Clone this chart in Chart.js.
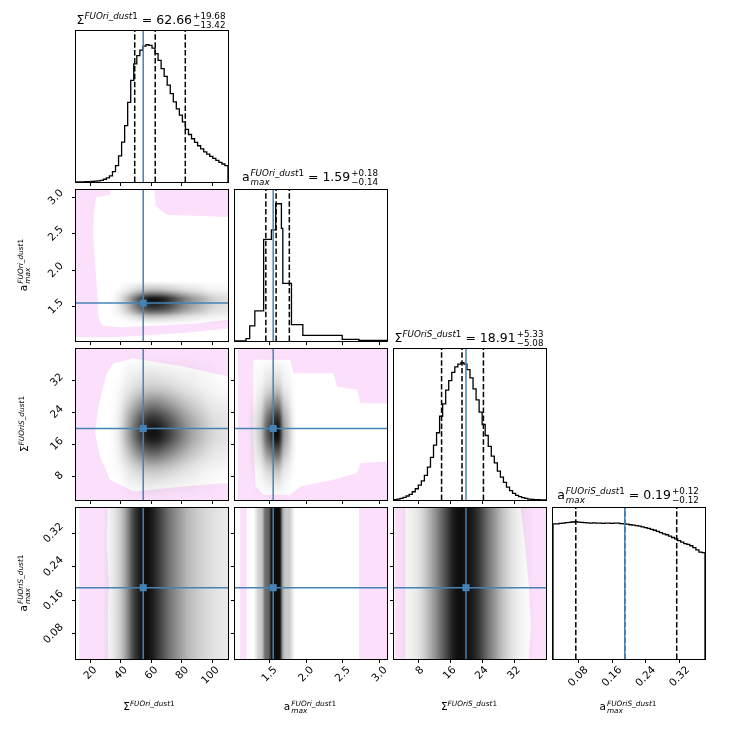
<!DOCTYPE html>
<html>
<head>
<meta charset="utf-8">
<script src="https://cdn.jsdelivr.net/npm/chart.js@4.4.1/dist/chart.umd.min.js"></script>
<style>
  html, body { margin: 0; padding: 0; background: #fff; }
  #fig { position: relative; width: 736px; height: 736px; overflow: hidden; font-family: "DejaVu Sans", sans-serif; color: #000; }
  #fig canvas { position: absolute; left: 0; top: 0; pointer-events: none; }
  .ttl { position: absolute; transform: translateX(-50%); font-size: 12.5px; line-height: 16px; white-space: nowrap; }
  .lbl { position: absolute; transform: translateX(-50%); font-size: 10.5px; line-height: 12px; white-space: nowrap; }
  .ylbl { position: absolute; width: 0; height: 0; }
  .ylbl > div { position: absolute; left: 0; top: 0; font-size: 10.5px; line-height: 12px; white-space: nowrap; transform: translate(-50%, -50%) rotate(-90deg); }
  sup { font-size: 70%; vertical-align: 0.55em; line-height: 0; }
  .pm { display: inline-block; vertical-align: -0.45em; font-size: 70%; line-height: 1; text-align: left; margin-left: 1px; }
  .pm > span { display: block; }
</style>
</head>
<body>
<div id="fig">
  <div class="ttl" style="left:151px;top:12px">Σ<sup><i>FUOri</i>_<i>dust</i>1</sup> = 62.66<span class="pm"><span>+19.68</span><span>−13.42</span></span></div>
  <div class="ttl" style="left:310px;top:169px">a<span class="pm"><span><i>FUOri</i>_<i>dust</i>1</span><span><i>max</i></span></span> = 1.59<span class="pm"><span>+0.18</span><span>−0.14</span></span></div>
  <div class="ttl" style="left:469px;top:330px">Σ<sup><i>FUOriS</i>_<i>dust</i>1</sup> = 18.91<span class="pm"><span>+5.33</span><span>−5.08</span></span></div>
  <div class="ttl" style="left:628px;top:487px">a<span class="pm"><span><i>FUOriS</i>_<i>dust</i>1</span><span><i>max</i></span></span> = 0.19<span class="pm"><span>+0.12</span><span>−0.12</span></span></div>

  <div class="lbl" style="left:149px;top:700px">Σ<sup><i>FUOri</i>_<i>dust</i>1</sup></div>
  <div class="lbl" style="left:310px;top:700px">a<span class="pm"><span><i>FUOri</i>_<i>dust</i>1</span><span><i>max</i></span></span></div>
  <div class="lbl" style="left:469px;top:700px">Σ<sup><i>FUOriS</i>_<i>dust</i>1</sup></div>
  <div class="lbl" style="left:628px;top:700px">a<span class="pm"><span><i>FUOriS</i>_<i>dust</i>1</span><span><i>max</i></span></span></div>

  <div class="ylbl" style="left:24px;top:265px"><div>a<span class="pm"><span><i>FUOri</i>_<i>dust</i>1</span><span><i>max</i></span></span></div></div>
  <div class="ylbl" style="left:24px;top:424px"><div>Σ<sup><i>FUOriS</i>_<i>dust</i>1</sup></div></div>
  <div class="ylbl" style="left:24px;top:583px"><div>a<span class="pm"><span><i>FUOriS</i>_<i>dust</i>1</span><span><i>max</i></span></span></div></div>
</div>
<script>
  // parameter axes: Σ FUOri, a_max FUOri, Σ FUOriS, a_max FUOriS
  const paramRanges = [[10.8, 110.3], [1.03, 3.1], [2, 39.8], [0.02, 0.38]];
  const paramTicks = [[20, 40, 60, 80, 100], [1.5, 2.0, 2.5, 3.0], [8, 16, 24, 32], [0.08, 0.16, 0.24, 0.32]];
  const tickDecimals = [0, 1, 0, 2];
  const truthValues = [54.8, 1.55, 19.9, 0.19];
  const quantiles = [[49.24, 62.66, 82.34], [1.45, 1.59, 1.77], [13.83, 18.91, 24.24], [0.074, 0.19, 0.313]];

  // 1D marginal histograms (peak = 1)
  const histSigmaFUOri = [0, 0, 0, 0.002, 0.003, 0.004, 0.006, 0.008, 0.012, 0.02,
    0.03, 0.045, 0.075, 0.12, 0.19, 0.29, 0.41, 0.58, 0.74, 0.86,
    0.92, 0.96, 0.99, 1.0, 0.995, 0.975, 0.935, 0.886, 0.826, 0.77,
    0.705, 0.644, 0.584, 0.533, 0.487, 0.438, 0.383, 0.346, 0.315, 0.288,
    0.264, 0.242, 0.22, 0.203, 0.186, 0.172, 0.157, 0.143, 0.131, 0.119];
  const histAmaxFUOriEdges = [1.03, 1.18, 1.23, 1.30, 1.42, 1.526, 1.585, 1.662, 1.681, 1.799, 1.954, 2.49, 2.718, 3.1];
  const histAmaxFUOri = [0, 0.017, 0.11, 0.22, 0.74, 0.81, 1.0, 0.82, 0.42, 0.12, 0.041, 0.012, 0.005];
  const histSigmaFUOriS = [0.002, 0.007, 0.012, 0.019, 0.029, 0.041, 0.06, 0.082, 0.109, 0.14,
    0.18, 0.24, 0.31, 0.40, 0.49, 0.61, 0.70, 0.80, 0.87, 0.93,
    0.97, 0.99, 1.0, 0.99, 0.95, 0.89, 0.81, 0.73, 0.64, 0.55,
    0.47, 0.39, 0.32, 0.27, 0.21, 0.167, 0.128, 0.094, 0.068, 0.048,
    0.034, 0.024, 0.017, 0.012, 0.007, 0.005, 0.003, 0.002, 0.001, 0];
  const histAmaxFUOriS = [0.985, 0.985, 0.988, 0.99, 0.993, 0.995, 0.998, 1.0, 0.997, 0.995,
    0.993, 0.992, 0.99, 0.992, 0.99, 0.99, 0.988, 0.99, 0.99, 0.988,
    0.99, 0.99, 0.986, 0.985, 0.982, 0.978, 0.975, 0.972, 0.968, 0.962,
    0.957, 0.952, 0.945, 0.938, 0.93, 0.92, 0.912, 0.905, 0.895, 0.885,
    0.875, 0.862, 0.852, 0.84, 0.835, 0.825, 0.812, 0.795, 0.778, 0.775];

  // 2D densities (darkness in %, rows listed from top to bottom, cells span the given x / y extents)
  const densR2C1X = [30, 114], densR2C1Y = [1.22, 1.88];
  const densR2C1 = [
    [0, 0, 0, 0, 0, 0, 0, 0, 0, 0, 0, 0, 0, 0],
    [0, 0, 2, 5, 8, 8, 7, 6, 4, 3, 2, 1, 1, 1],
    [0, 1, 5, 12, 19, 20, 18, 14, 10, 7, 5, 3, 2, 2],
    [0, 3, 14, 33, 52, 55, 50, 39, 28, 19, 14, 8, 6, 5],
    [0, 5, 25, 60, 95, 100, 90, 70, 50, 35, 25, 15, 10, 8],
    [0, 5, 23, 54, 86, 90, 81, 63, 45, 32, 23, 14, 9, 7],
    [0, 4, 20, 48, 76, 80, 72, 56, 40, 28, 20, 12, 8, 6],
    [0, 3, 14, 33, 52, 55, 50, 39, 28, 19, 14, 8, 6, 5],
    [0, 1, 5, 12, 19, 20, 18, 14, 10, 7, 5, 3, 2, 2],
    [0, 0, 1, 3, 5, 5, 5, 4, 3, 2, 1, 1, 1, 1],
    [0, 0, 0, 0, 0, 0, 0, 0, 0, 0, 0, 0, 0, 0]];
  const densR3C1X = [30, 114], densR3C1Y = [0, 40];
  const densR3C1 = [
    [0, 0, 0, 0, 0, 0, 0, 0, 0, 0, 0, 0, 0, 0],
    [0, 0, 2, 3, 5, 5, 4, 3, 2, 2, 1, 1, 0, 0],
    [0, 1, 5, 10, 14, 15, 13, 10, 7, 5, 3, 2, 1, 1],
    [0, 2, 14, 29, 43, 45, 38, 29, 20, 14, 9, 5, 4, 3],
    [0, 4, 26, 55, 81, 85, 72, 55, 38, 26, 17, 10, 7, 6],
    [0, 5, 30, 65, 95, 100, 85, 65, 45, 30, 20, 12, 8, 7],
    [0, 3, 18, 39, 57, 60, 51, 39, 27, 18, 12, 7, 5, 4],
    [0, 1, 6, 13, 19, 20, 17, 13, 9, 6, 4, 2, 2, 1],
    [0, 0, 2, 3, 5, 5, 4, 3, 2, 2, 1, 1, 0, 0],
    [0, 0, 0, 0, 0, 0, 0, 0, 0, 0, 0, 0, 0, 0]];
  const densR3C2X = [1.18, 1.90], densR3C2Y = [0, 40];
  const densR3C2 = [
    [0, 0, 0, 0, 0, 0, 0, 0, 0, 0, 0, 0],
    [0, 0, 1, 1, 3, 4, 5, 5, 2, 1, 0, 0],
    [0, 0, 2, 3, 8, 11, 15, 15, 5, 3, 1, 0],
    [0, 1, 5, 9, 25, 34, 45, 45, 16, 9, 2, 0],
    [0, 3, 9, 17, 47, 64, 85, 85, 30, 17, 4, 0],
    [0, 3, 10, 20, 55, 75, 100, 100, 35, 20, 5, 0],
    [0, 2, 6, 12, 33, 45, 60, 60, 21, 12, 3, 0],
    [0, 1, 2, 4, 11, 15, 20, 20, 7, 4, 1, 0],
    [0, 0, 1, 1, 3, 4, 5, 5, 2, 1, 0, 0],
    [0, 0, 0, 0, 0, 0, 0, 0, 0, 0, 0, 0]];
  const densR4C1X = [26, 114], densR4C1Y = [0, 0.4];
  const densR4C1 = [[0, 2, 6, 15, 35, 70, 90, 100, 95, 80, 65, 50, 40, 30, 22, 17, 13, 10, 8, 6, 5, 5]];
  const densR4C2X = [1.27, 1.87], densR4C2Y = [0, 0.4];
  const densR4C2 = [[0, 5, 12, 14, 20, 50, 55, 60, 95, 100, 100, 100, 95, 35, 18, 15, 15, 10, 2, 0]];
  const densR4C3X = [2, 38], densR4C3Y = [0, 0.4];
  const densR4C3 = [[0, 2, 4, 10, 25, 45, 70, 95, 100, 95, 80, 55, 35, 18, 8, 3, 1, 0]];

  // sparse sample regions (pink), filled even-odd
  const pinkR2C1 = [
    [[10.8, 1.03], [110.3, 1.03], [110.3, 3.1], [10.8, 3.1]],
    [[33, 3.1], [62, 3.1], [63, 2.88], [70, 2.76], [110.3, 2.73], [110.3, 1.32], [90, 1.27], [60, 1.24], [40, 1.22], [28, 1.24],
     [25.5, 1.35], [25, 1.6], [24, 1.9], [23, 2.2], [22, 2.5], [22.5, 2.8], [24, 3.0], [33, 3.03]],
    [[10.8, 1.03], [110.3, 1.03], [110.3, 1.2], [80, 1.14], [50, 1.1], [35, 1.08], [10.8, 1.08]]];
  const pinkR3C1 = [
    [[10.8, 2], [110.3, 2], [110.3, 39.8], [10.8, 39.8]],
    [[110.3, 32.9], [81, 35.4], [48.3, 37.5], [35.2, 36.2], [30.9, 33.75], [25.4, 25.4], [23.3, 18.75], [26.5, 12.9],
     [33, 7.1], [48.3, 4.15], [81, 5.4], [110.3, 6.25]]];
  const pinkR3C2 = [
    [[1.03, 2], [3.1, 2], [3.1, 39.8], [1.03, 39.8]],
    [[1.03, 2], [1.07, 2], [1.07, 39.8], [1.03, 39.8]],
    [[1.28, 37.1], [1.78, 37.1], [1.83, 33.75], [2.37, 33.75], [2.42, 30.4], [2.69, 29.6], [2.74, 26.25], [3.1, 26.25],
     [3.1, 11.65], [2.74, 11.25], [2.69, 8.75], [2.37, 7.1], [1.92, 5.4], [1.78, 3.3], [1.42, 3.3], [1.31, 5.4], [1.28, 17]]];
  const pinkR4C1 = [[[13, 0.02], [32, 0.02], [31.5, 0.1], [32.2, 0.2], [31, 0.3], [31.5, 0.38], [13, 0.38]]];
  const pinkR4C2 = [[[1.10, 0.02], [1.19, 0.02], [1.19, 0.38], [1.10, 0.38]],
    [[2.72, 0.02], [3.1, 0.02], [3.1, 0.38], [2.72, 0.38]]];
  const pinkR4C3 = [[[2.2, 0.02], [4.8, 0.02], [4.8, 0.38], [2.2, 0.38]],
    [[35.5, 0.02], [39.8, 0.02], [39.8, 0.38], [33.5, 0.38], [34.5, 0.3], [35.5, 0.2], [36, 0.1]]];

  const histograms = [
    { heights: histSigmaFUOri },
    { heights: histAmaxFUOri, edges: histAmaxFUOriEdges },
    { heights: histSigmaFUOriS },
    { heights: histAmaxFUOriS }
  ];
  const densities = {
    '1-0': { rows: densR2C1, x: densR2C1X, y: densR2C1Y, pink: pinkR2C1 },
    '2-0': { rows: densR3C1, x: densR3C1X, y: densR3C1Y, pink: pinkR3C1 },
    '2-1': { rows: densR3C2, x: densR3C2X, y: densR3C2Y, pink: pinkR3C2 },
    '3-0': { rows: densR4C1, x: densR4C1X, y: densR4C1Y, pink: pinkR4C1 },
    '3-1': { rows: densR4C2, x: densR4C2X, y: densR4C2Y, pink: pinkR4C2 },
    '3-2': { rows: densR4C3, x: densR4C3X, y: densR4C3Y, pink: pinkR4C3 }
  };

  // panel layout in pixels
  const colLeft = [76, 235, 394, 553];
  const rowTop = [31, 190, 349, 508];
  const PW = 152, PH = 151, SIZE = 736;
  const TRUTH = '#4682b4';
  const FONT = '"DejaVu Sans", sans-serif';
  const TICK_SIZE = 10.5;

  Chart.defaults.font.family = FONT;
  Chart.defaults.color = '#000';

  const measureCtx = document.createElement('canvas').getContext('2d');
  function textWidth(txt, size) {
    measureCtx.font = size + 'px ' + FONT;
    return measureCtx.measureText(txt).width;
  }

  const cornerLayers = {
    id: 'cornerLayers',
    beforeDatasetsDraw(chart, args, opts) {
      const { ctx, chartArea: a } = chart;
      const xs = chart.scales.x, ys = chart.scales.y;
      ctx.save();
      ctx.beginPath();
      ctx.rect(a.left, a.top, a.right - a.left, a.bottom - a.top);
      ctx.clip();
      if (opts.pink) {
        ctx.beginPath();
        opts.pink.forEach(ring => {
          ring.forEach((p, i) => {
            const px = xs.getPixelForValue(p[0]), py = ys.getPixelForValue(p[1]);
            if (i) ctx.lineTo(px, py); else ctx.moveTo(px, py);
          });
          ctx.closePath();
        });
        ctx.fillStyle = 'rgba(238,130,238,0.26)';
        ctx.fill('evenodd');
      }
      if (opts.density) {
        const d = opts.density;
        const nx = d.rows[0].length, ny = d.rows.length;
        const off = document.createElement('canvas');
        off.width = nx; off.height = ny;
        const octx = off.getContext('2d');
        const img = octx.createImageData(nx, ny);
        d.rows.forEach((row, j) => row.forEach((v, i) => {
          const k = (j * nx + i) * 4;
          img.data[k + 3] = Math.round(255 * 0.95 * Math.pow(v / 100, 0.8));
        }));
        octx.putImageData(img, 0, 0);
        const x0 = xs.getPixelForValue(d.x[0]), x1 = xs.getPixelForValue(d.x[1]);
        const y0 = ys.getPixelForValue(d.y[1]), y1 = ys.getPixelForValue(d.y[0]);
        ctx.imageSmoothingEnabled = true;
        ctx.imageSmoothingQuality = 'high';
        ctx.drawImage(off, x0, y0, x1 - x0, y1 - y0);
      }
      ctx.restore();
    },
    afterDraw(chart, args, opts) {
      const { ctx, chartArea: a } = chart;
      ctx.save();
      ctx.strokeStyle = '#000';
      ctx.lineWidth = 1;
      ctx.strokeRect(a.left - 0.5, a.top - 0.5, a.right - a.left + 1, a.bottom - a.top + 1);
      if (opts.yTicks) {
        const ys = chart.scales.y;
        ctx.fillStyle = '#000';
        ctx.font = TICK_SIZE + 'px ' + FONT;
        ctx.textAlign = 'center';
        ctx.textBaseline = 'middle';
        opts.yTicks.forEach(v => {
          const s = v.toFixed(opts.yDecimals);
          const ext = (ctx.measureText(s).width + 6) * 0.7071;
          ctx.save();
          ctx.translate(a.left - 12 - ext / 2, ys.getPixelForValue(v));
          ctx.rotate(-Math.PI / 4);
          ctx.fillText(s, 0, 0);
          ctx.restore();
        });
      }
      ctx.restore();
    }
  };
  Chart.register(cornerLayers);

  // size: the scale's box thickness (labels are clipped to it)
  function axis(range, ticks, decimals, horizontal, showLabels, size) {
    const labels = ticks.map(v => v.toFixed(decimals));
    const meanWidth = labels.length ? labels.reduce((s, t) => s + textWidth(t, TICK_SIZE), 0) / labels.length : 0;
    return {
      type: 'linear',
      min: range[0],
      max: range[1],
      afterBuildTicks: ax => { ax.ticks = ticks.map(v => ({ value: v })); },
      afterFit: ax => {
        if (horizontal) ax.height = size; else ax.width = size;
        ax.paddingLeft = ax.paddingRight = ax.paddingTop = ax.paddingBottom = 0;
      },
      border: { display: false },
      grid: { drawOnChartArea: false, drawTicks: true, tickLength: 4, color: '#000', lineWidth: 1 },
      ticks: {
        display: showLabels,
        autoSkip: false,
        minRotation: 45,
        maxRotation: 45,
        padding: 1,
        color: '#000',
        font: { family: FONT, size: TICK_SIZE },
        callback: v => Number(v).toFixed(decimals),
        labelOffset: 0.354 * meanWidth
      }
    };
  }

  function vline(x, y0, y1, color, width, dash) {
    return {
      data: [{ x: x, y: y0 }, { x: x, y: y1 }],
      borderColor: color, borderWidth: width, borderDash: dash || [],
      pointRadius: 0, fill: false, tension: 0
    };
  }
  function hline(y, x0, x1, color, width) {
    return {
      data: [{ x: x0, y: y }, { x: x1, y: y }],
      borderColor: color, borderWidth: width,
      pointRadius: 0, fill: false, tension: 0
    };
  }

  function histPoints(h, range) {
    const n = h.heights.length;
    const edges = h.edges || Array.from({ length: n + 1 }, (_, i) => range[0] + (range[1] - range[0]) * i / n);
    const pts = [{ x: edges[0], y: 0 }];
    h.heights.forEach((v, i) => pts.push({ x: edges[i], y: v }));
    pts.push({ x: edges[n], y: h.heights[n - 1] });
    pts.push({ x: edges[n], y: 0 });
    return pts;
  }

  const fig = document.getElementById('fig');

  function makePanel(r, c) {
    const canvas = document.createElement('canvas');
    canvas.width = SIZE;
    canvas.height = SIZE;
    fig.insertBefore(canvas, fig.firstChild);
    const isHist = r === c;
    const xr = paramRanges[c];
    const yr = isHist ? [0, 1.1] : paramRanges[r];
    const datasets = [];
    const layers = {};

    if (isHist) {
      datasets.push(vline(truthValues[c], 0, 1.1, TRUTH, 1.5));
      quantiles[c].forEach(q => datasets.push(vline(q, 0, 1.1, '#000', 1.5, [5.5, 2.4])));
      datasets.push({
        data: histPoints(histograms[c], xr),
        stepped: true, borderColor: '#000', borderWidth: 1.3,
        pointRadius: 0, fill: false
      });
    } else {
      datasets.push({
        data: [{ x: truthValues[c], y: truthValues[r] }],
        showLine: false, pointStyle: 'rect', pointRadius: 5,
        backgroundColor: TRUTH, borderWidth: 0
      });
      datasets.push(vline(truthValues[c], yr[0], yr[1], TRUTH, 1.5));
      datasets.push(hline(truthValues[r], xr[0], xr[1], TRUTH, 1.5));
      const d = densities[r + '-' + c];
      layers.pink = d.pink;
      layers.density = d;
      if (c === 0) {
        layers.yTicks = paramTicks[r];
        layers.yDecimals = tickDecimals[r];
      }
    }

    const bottomSpace = SIZE - rowTop[r] - PH;
    const yAxis = axis(yr, isHist ? [] : paramTicks[r], isHist ? 0 : tickDecimals[r], false, false, 0);
    if (isHist) yAxis.display = false;

    new Chart(canvas, {
      type: 'line',
      data: { datasets: datasets },
      options: {
        responsive: false,
        animation: false,
        events: [],
        layout: {
          padding: {
            left: colLeft[c],
            top: rowTop[r],
            right: SIZE - colLeft[c] - PW,
            bottom: 0
          }
        },
        plugins: {
          legend: { display: false },
          tooltip: { enabled: false },
          cornerLayers: layers
        },
        scales: {
          x: axis(xr, paramTicks[c], tickDecimals[c], true, r === 3, bottomSpace),
          y: yAxis
        }
      }
    });
  }

  for (let r = 0; r < 4; r++) {
    for (let c = 0; c <= r; c++) makePanel(r, c);
  }
</script>
</body>
</html>
